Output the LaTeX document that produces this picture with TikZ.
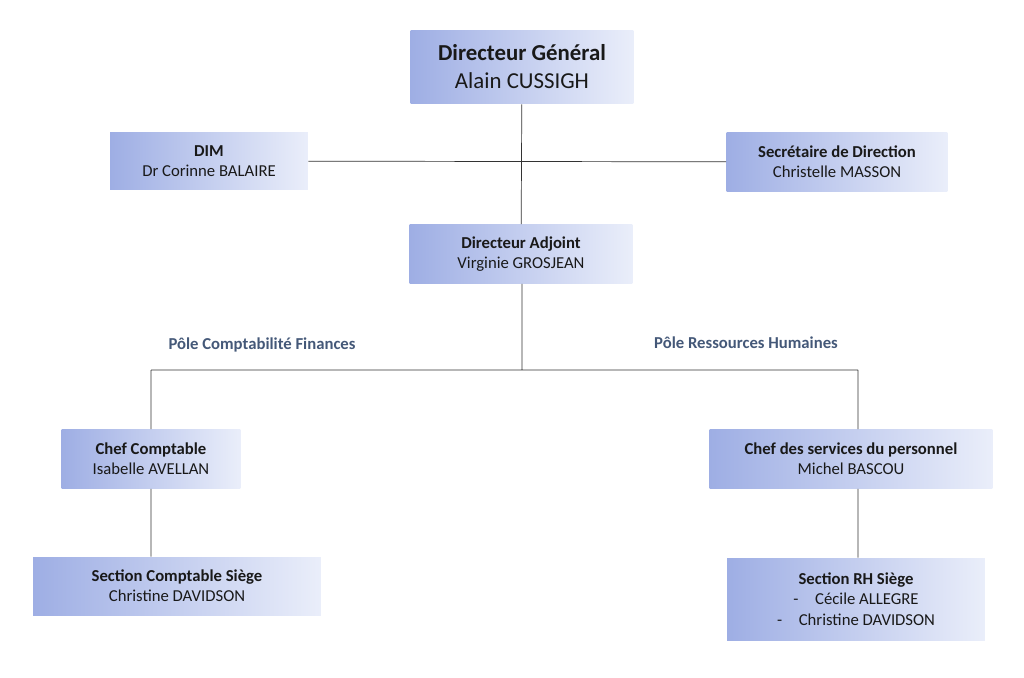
\documentclass[tikz,border=0pt]{standalone}
\usepackage{fontspec}
\setmainfont{Carlito}
\definecolor{boxleft}{RGB}{158,174,228}
\definecolor{boxright}{RGB}{234,238,250}
\definecolor{poletext}{RGB}{68,88,120}
\tikzset{orgbox/.style={
  shape=rectangle,
  left color=boxleft,
  right color=boxright,
  draw=none,
  align=center,
  inner sep=0pt,
  text=black!90,
  font=\fontsize{9.5}{11.5}\selectfont,
  },
  polelabel/.style={
  text=poletext,
  font=\fontsize{9.5}{11.5}\selectfont\bfseries,
  }
}
\begin{document}
\begin{tikzpicture}[x=0.02cm,y=-0.02cm]
      \useasboundingbox (0,0) rectangle (1024,677);
        \node [orgbox, minimum width=4.46cm, minimum height=1.48cm, font=\fontsize{13}{16}\selectfont] (dg) at (522,67) {\textbf{Directeur Général}\\Alain CUSSIGH};
        \node [orgbox, minimum width=3.96cm, minimum height=1.14cm] (dim) at (209,161) {\textbf{DIM}\\Dr Corinne BALAIRE};
        \node [orgbox, minimum width=4.42cm, minimum height=1.18cm] (sec) at (837,162) {\textbf{Secrétaire de Direction}\\Christelle MASSON};
        \node [orgbox, minimum width=4.46cm, minimum height=1.18cm] (da) at (521,254) {\textbf{Directeur Adjoint}\\Virginie GROSJEAN};

        \node [polelabel] (pcf) at (262,345) {Pôle Comptabilité Finances};
        \node [polelabel] (prh) at (746,343) {Pôle Ressources Humaines};

        \coordinate (split) at (522,370);
        \coordinate (splitl) at (151,370);
        \coordinate (splitr) at (858,370);

        \node [orgbox, minimum width=3.58cm, minimum height=1.18cm] (cc) at (151,459) {\textbf{Chef Comptable}\\Isabelle AVELLAN};
        \node [orgbox, minimum width=5.66cm, minimum height=1.18cm] (csp) at (851,459) {\textbf{Chef des services du personnel}\\Michel BASCOU};
        \node [orgbox, minimum width=5.76cm, minimum height=1.16cm] (scs) at (177,586) {\textbf{Section Comptable Siège}\\Christine DAVIDSON};
        \node [orgbox, minimum width=5.16cm, minimum height=1.64cm] (srh) at (856,599) {\textbf{Section RH Siège}\\-\quad Cécile ALLEGRE\\-\quad Christine DAVIDSON};

        \draw [line width=0.4pt, black!80] (dg) -- (da)
          (dim) -- (sec)
          (da.south -| split) -- (split)
          (splitl) -- (splitr)
          (splitl) -- (cc.north -| splitl)
          (splitr) -- (csp.north -| splitr)
          (cc.south) -- (cc.south |- scs.north)
          (csp.south -| splitr) -- (srh.north -| splitr);
    \end{tikzpicture}
\end{document}
